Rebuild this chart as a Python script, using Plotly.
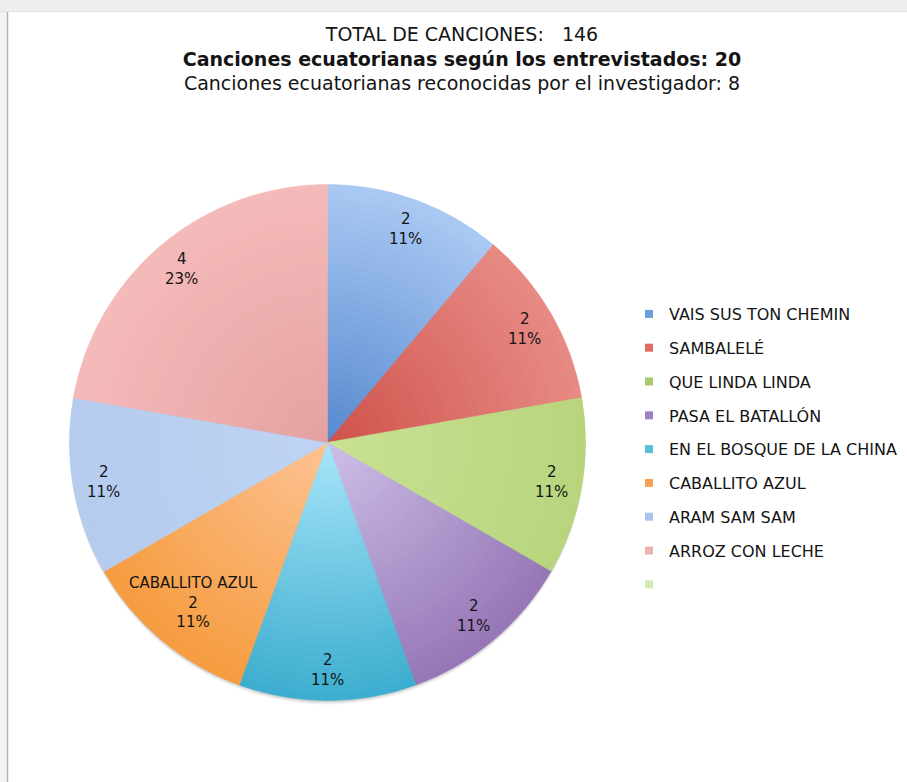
import math
import plotly.graph_objects as go

# ---- data -------------------------------------------------------------
songs = [
    "VAIS SUS TON CHEMIN",
    "SAMBALELÉ",
    "QUE LINDA LINDA",
    "PASA EL BATALLÓN",
    "EN EL BOSQUE DE LA CHINA",
    "CABALLITO AZUL",
    "ARAM SAM SAM",
    "ARROZ CON LECHE",
    "",
]
counts = [2, 2, 2, 2, 2, 2, 2, 4, 0]
pct_labels = ["11%", "11%", "11%", "11%", "11%", "11%", "11%", "23%", ""]
name_on_slice = [False, False, False, False, False, True, False, False, False]

title_lines = [
    "TOTAL DE CANCIONES:   146",
    "Canciones ecuatorianas según los entrevistados: 20",
    "Canciones ecuatorianas reconocidas por el investigador: 8",
]

# gradient end colours (top of slice, bottom of slice) and legend swatches
grad_top = ["#b2cef6", "#f5aba6", "#d9eeab", "#cdbfe7", "#a8e5f9", "#fdc394", "#c8dcf8", "#fbc5c4", "#dcedbf"]
grad_bot = ["#5689cf", "#cf524b", "#98bd52", "#8864aa", "#3aacce", "#f4922a", "#a3bce6", "#e5a1a1", "#c4de9c"]
swatch = ["#6b9ddf", "#df6d66", "#a9ca6b", "#9c80c3", "#57c0dc", "#f7a253", "#abc6ee", "#f0b1b1", "#d5e9b3"]

# ---- geometry ---------------------------------------------------------
W, H = 907, 782
CX, CY, R = 327.5, 442.5, 258
LABEL_R = 0.88          # label distance from centre, fraction of radius
LABEL_R_NAMED = 0.81    # labels that also carry the category name
FONT = "DejaVu Sans"
TXT = "#141414"


def domain(cx, cy, r):
    return dict(x=[(cx - r) / W, (cx + r) / W], y=[1 - (cy + r) / H, 1 - (cy - r) / H])


def hex_rgb(h):
    h = h.lstrip("#")
    return [int(h[i:i + 2], 16) for i in (0, 2, 4)]


def mix(c0, c1, t):
    a, b = hex_rgb(c0), hex_rgb(c1)
    t = min(max(t, 0.0), 1.0)
    return "rgb({},{},{})".format(*[round(a[i] + (b[i] - a[i]) * t) for i in range(3)])


idx = [i for i, v in enumerate(counts) if v > 0]
vals = [counts[i] for i in idx]
labs = [songs[i] for i in idx]
total = sum(vals)

# angular extent of each slice, clockwise from 12 o'clock
spans = []
acc = 0.0
for v in vals:
    a0 = acc / total * 2 * math.pi
    acc += v
    a1 = acc / total * 2 * math.pi
    spans.append((a0, a1))


def slice_colour(k, frac):
    """Vertical gradient of a slice, sampled along the arc at radius frac*R."""
    i = idx[k]
    a0, a1 = spans[k]
    ys = [0.0, -math.cos(a0), -math.cos(a1)]
    if a0 <= 0.0 <= a1:
        ys.append(-1.0)
    if a0 <= math.pi <= a1:
        ys.append(1.0)
    y_top, y_bot = min(ys), max(ys)
    y_mean = -frac * (math.sin(a1) - math.sin(a0)) / (a1 - a0)
    t = (y_mean - y_top) / (y_bot - y_top)
    return mix(grad_top[i], grad_bot[i], t)


fig = go.Figure()

# soft drop shadow under the pie
for off, alpha in [(4, 0.05), (2.5, 0.07), (1.2, 0.08)]:
    fig.add_trace(go.Pie(
        values=[1], labels=["shadow"], sort=False, domain=domain(CX, CY + off, R),
        marker=dict(colors=[f"rgba(0,0,0,{alpha})"], line=dict(width=0)),
        textinfo="none", hoverinfo="skip", showlegend=False,
    ))

# concentric full pies, largest first, give each slice its shading
N_RING = 32
for k in range(N_RING, 0, -1):
    r = R * k / N_RING
    frac = (k - 0.5) / N_RING
    cols = [slice_colour(j, frac) for j in range(len(vals))]
    top = k == N_RING
    fig.add_trace(go.Pie(
        values=vals, labels=labs, sort=False, direction="clockwise", rotation=0,
        domain=domain(CX, CY, r),
        marker=dict(colors=cols, line=dict(color=cols, width=0.6)),
        textinfo="none",
        hoverinfo="label+value+percent" if top else "skip",
        showlegend=False,
    ))

# data labels, placed along each slice's bisector
annotations = []
for k, i in enumerate(idx):
    a0, a1 = spans[k]
    mid = (a0 + a1) / 2
    rf = LABEL_R_NAMED if name_on_slice[i] else LABEL_R
    px = CX + rf * R * math.sin(mid)
    py = CY - rf * R * math.cos(mid)
    parts = ([songs[i]] if name_on_slice[i] else []) + [str(counts[i]), pct_labels[i]]
    annotations.append(dict(
        text="<br>".join(parts), x=px / W, y=1 - py / H, xref="paper", yref="paper",
        xanchor="center", yanchor="middle", showarrow=False, align="center",
        font=dict(family=FONT, size=15, color=TXT),
    ))

# legend entries
for i, name in enumerate(songs):
    fig.add_trace(go.Scatter(
        x=[None], y=[None], mode="markers", name=name if name else " ",
        legendgroup=f"g{i}",
        marker=dict(symbol="square", size=8, color=swatch[i]),
    ))

# window frame
shapes = [
    dict(type="rect", xref="paper", yref="paper", x0=0, x1=1, y0=1 - 11 / H, y1=1,
         fillcolor="#efefef", line=dict(width=0), layer="above"),
    dict(type="line", xref="paper", yref="paper", x0=0, x1=1, y0=1 - 11.5 / H, y1=1 - 11.5 / H,
         line=dict(color="#e2e2e2", width=1)),
    dict(type="rect", xref="paper", yref="paper", x0=0, x1=7 / W, y0=0, y1=1 - 12 / H,
         fillcolor="#f3f3f3", line=dict(width=0), layer="above"),
    dict(type="line", xref="paper", yref="paper", x0=7.5 / W, x1=7.5 / W, y0=0, y1=1 - 12 / H,
         line=dict(color="#b4b4b4", width=1.5)),
]

title_html = f"{title_lines[0]}<br><b>{title_lines[1]}</b><br>{title_lines[2]}"

fig.update_layout(
    width=W, height=H,
    margin=dict(l=0, r=0, t=0, b=0),
    paper_bgcolor="white", plot_bgcolor="white",
    font=dict(family=FONT, color=TXT),
    title=dict(text=title_html, x=462 / W, xanchor="center", y=1 - 41 / H, yanchor="top",
               font=dict(family=FONT, size=19, color=TXT)),
    xaxis=dict(visible=False), yaxis=dict(visible=False),
    showlegend=True,
    legend=dict(x=629 / W, xanchor="left", y=1 - 297 / H, yanchor="top",
                traceorder="grouped", tracegroupgap=10,
                font=dict(family=FONT, size=16, color=TXT),
                bgcolor="rgba(0,0,0,0)"),
    annotations=annotations,
    shapes=shapes,
)

fig.write_html("out.html")
